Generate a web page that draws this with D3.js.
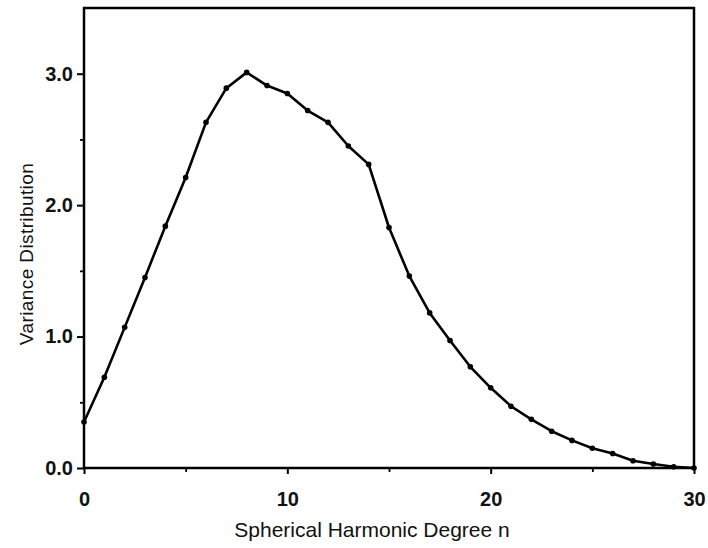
<!DOCTYPE html>
<html>
<head>
<meta charset="utf-8">
<script src="https://cdn.jsdelivr.net/npm/d3@7"></script>
<style>
  body { margin: 0; background: #fff; }
  svg { display: block; }
</style>
</head>
<body>
<div id="chart"></div>
<script>
// spherical harmonic degree n and variance
const degrees = d3.range(0, 31);
const variance = [
  0.35, 0.69, 1.07, 1.45, 1.84, 2.21, 2.63, 2.89, 3.01, 2.91,
  2.85, 2.72, 2.63, 2.45, 2.31, 1.83, 1.46, 1.18, 0.97, 0.77,
  0.61, 0.47, 0.37, 0.28, 0.21, 0.15, 0.11, 0.055, 0.03, 0.01,
  0.0
];
const xMajor = [0, 10, 20, 30];
const xMinor = [5, 15, 25];
const yMajor = [0, 1, 2, 3];
const yMinor = [0.5, 1.5, 2.5];

const W = 708, H = 548;
const margin = { top: 8, right: 14, bottom: 80, left: 84 };

const x = d3.scaleLinear().domain([0, 30]).range([margin.left, W - margin.right]);
const y = d3.scaleLinear().domain([0, 3.5]).range([H - margin.bottom, margin.top]);

const svg = d3.select('#chart').append('svg')
  .attr('width', W)
  .attr('height', H)
  .style('font-family', '"Liberation Sans", Arial, sans-serif');

// frame
svg.append('rect')
  .attr('x', x(0)).attr('y', y(3.5))
  .attr('width', x(30) - x(0)).attr('height', y(0) - y(3.5))
  .attr('fill', 'none').attr('stroke', '#000').attr('stroke-width', 2.5);

// x axis
const xAxis = svg.append('g')
  .attr('transform', `translate(0,${y(0)})`)
  .call(d3.axisBottom(x).tickValues(xMajor).tickFormat(d3.format('d')).tickSize(6).tickPadding(18));
xAxis.select('.domain').remove();
xAxis.selectAll('line').attr('stroke-width', 2);
xAxis.selectAll('text').attr('font-size', 20).attr('font-weight', 'bold').attr('fill', '#111');

svg.append('g')
  .attr('transform', `translate(0,${y(0)})`)
  .call(d3.axisBottom(x).tickValues(xMinor).tickFormat('').tickSize(4))
  .call(g => g.select('.domain').remove())
  .selectAll('line').attr('stroke-width', 1.8);

// y axis
const yAxis = svg.append('g')
  .attr('transform', `translate(${x(0)},0)`)
  .call(d3.axisLeft(y).tickValues(yMajor).tickFormat(d3.format('.1f')).tickSize(7).tickPadding(4));
yAxis.select('.domain').remove();
yAxis.selectAll('line').attr('stroke-width', 2);
yAxis.selectAll('text').attr('font-size', 20).attr('font-weight', 'bold').attr('fill', '#111');

svg.append('g')
  .attr('transform', `translate(${x(0)},0)`)
  .call(d3.axisLeft(y).tickValues(yMinor).tickFormat('').tickSize(4))
  .call(g => g.select('.domain').remove())
  .selectAll('line').attr('stroke-width', 1.8);

// axis titles
svg.append('text')
  .attr('x', 372)
  .attr('y', 537)
  .attr('text-anchor', 'middle')
  .attr('font-size', 21)
  .attr('fill', '#111')
  .text('Spherical Harmonic Degree n');

svg.append('text')
  .attr('transform', 'translate(33,254) rotate(-90)')
  .attr('text-anchor', 'middle')
  .attr('font-size', 19)
  .attr('letter-spacing', 0.4)
  .attr('fill', '#111')
  .text('Variance Distribution');

// curve
const pts = degrees.map((n, i) => ({ n, v: variance[i] }));
const line = d3.line().x(d => x(d.n)).y(d => y(d.v));

svg.append('path')
  .datum(pts)
  .attr('d', line)
  .attr('fill', 'none')
  .attr('stroke', '#000')
  .attr('stroke-width', 2.6)
  .attr('stroke-linejoin', 'round');

svg.append('g').selectAll('circle')
  .data(pts)
  .join('circle')
  .attr('cx', d => x(d.n))
  .attr('cy', d => y(d.v))
  .attr('r', 2.8)
  .attr('fill', '#000');
</script>
</body>
</html>
